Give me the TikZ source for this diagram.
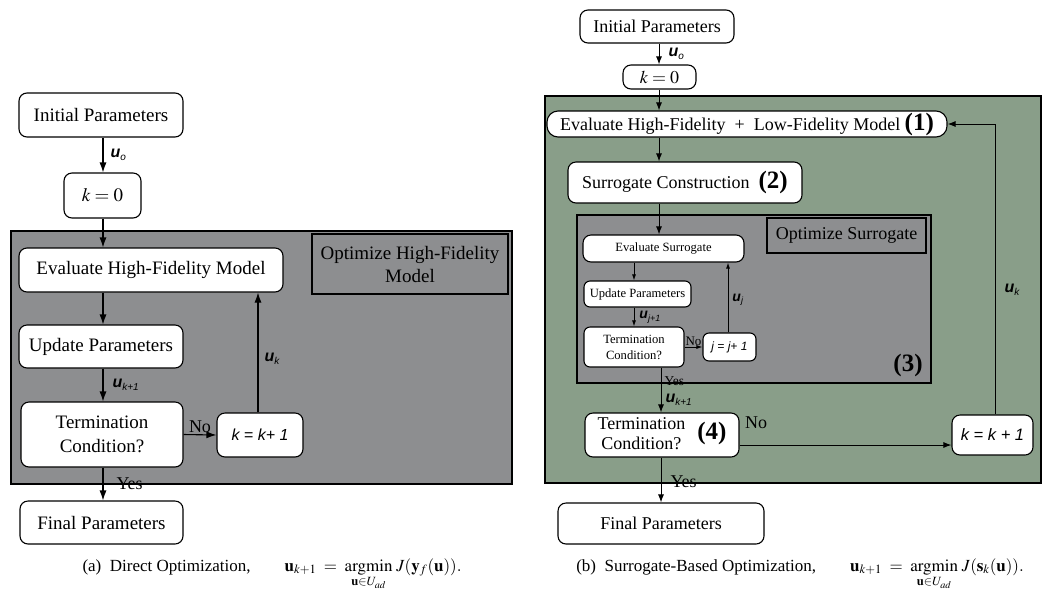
\documentclass[tikz,border=0pt]{standalone}
\usepackage{amsmath}
\usepackage{mathptmx}
\usepackage{fontspec}
\setmainfont{Liberation Serif}
\newfontfamily\sansl{Liberation Sans}
\usetikzlibrary{arrows.meta}
\definecolor{boxgray}{RGB}{141,142,144}
\definecolor{boxgreen}{RGB}{137,158,137}
\newcommand\fsz[2]{\fontsize{#1pt}{#2pt}\selectfont}
\newcommand\ulab[1]{{\sansl\bfseries\itshape\fsz{16}{16}u}\raisebox{-3pt}{\sansl\itshape\fsz{10}{10}#1}}
\newcommand\ulabs[1]{{\sansl\bfseries\itshape\fsz{14}{14}u}\raisebox{-2.5pt}{\sansl\itshape\fsz{9}{9}#1}}
\newcommand\argminop{\mathop{\mathrm{argmin}}\limits}
\begin{document}
\begin{tikzpicture}[x=1pt,y=-1pt,
  box/.style={draw, fill=white, rounded corners=8pt, line width=1.1pt, inner sep=0pt, align=center},
  optbox/.style={draw, line width=2pt, inner sep=0pt, align=center},
  region/.style={draw, line width=1.3pt},
  arrA/.style={-{Latex[length=10pt,width=7pt]}, line width=1.1pt},
  arrB/.style={-{Latex[length=8pt,width=6pt]}, line width=1pt},
  arrS/.style={-{Latex[length=6pt,width=4pt]}, line width=0.9pt},
  lbl/.style={inner sep=1pt}]
\useasboundingbox (0,0) rectangle (1043,590);

% ---------- (a) Direct Optimization ----------
\filldraw[region, fill=boxgray] (11,231) rectangle (512,484);
\node[box, minimum width=164pt, minimum height=44pt, font=\fsz{19}{23}] (iniA) at (101,115) {Initial Parameters};
\node[box, minimum width=77pt, minimum height=45pt, font=\fsz{19}{23}] (k0A) at (102.5,195.5) {$k = 0$};
\node[box, minimum width=264pt, minimum height=44pt, font=\fsz{19}{23}] (evalA) at (151,270) {Evaluate High-Fidelity Model};
\node[optbox, fill=boxgray, minimum width=196pt, minimum height=60pt, font=\fsz{19}{23}] (optA) at (410,264) {Optimize High-Fidelity\\Model};
\node[box, minimum width=164pt, minimum height=43pt, font=\fsz{19}{23}] (updA) at (101,346.5) {Update Parameters};
\node[box, minimum width=162pt, minimum height=65pt, font=\fsz{19}{24}] (termA) at (102,434.5) {Termination\\Condition?};
\node[box, minimum width=86pt, minimum height=44pt, font=\sansl\itshape\fsz{16}{16}] (kkA) at (260,435) {k = k+ 1};
\node[box, minimum width=163pt, minimum height=43pt, font=\fsz{19}{23}] (finA) at (101.5,522.5) {Final Parameters};

\coordinate (ca) at (103,0);
\coordinate (cka) at (258,0);
\draw[arrA] (iniA.south -| ca) -- (k0A.north -| ca) node[midway, right, xshift=6pt, lbl] {\ulab{o}};
\draw[arrA] (k0A.south -| ca) -- (evalA.north -| ca);
\draw[arrA] (evalA.south -| ca) -- (updA.north -| ca);
\draw[arrA] (updA.south -| ca) -- (termA.north -| ca) node[midway, right, xshift=8pt, lbl] {\ulab{k+1}};
\draw[arrA] (termA.east) -- (kkA.west) node[midway, above, yshift=1pt, lbl, font=\fsz{18}{20}] {No};
\draw[arrA] (kkA.north -| cka) -- (evalA.south -| cka) node[midway, right, xshift=5pt, yshift=-6pt, lbl] {\ulab{k}};
\draw[arrA] (termA.south -| ca) -- (finA.north -| ca) node[midway, right, xshift=12pt, yshift=0pt, lbl, font=\fsz{18}{20}] {Yes};

% ---------- (b) Surrogate-Based Optimization ----------
\filldraw[region, fill=boxgreen] (545,96) rectangle (1041,483);
\node[box, minimum width=154pt, minimum height=33pt, font=\fsz{18}{22}] (iniB) at (657,26.5) {Initial Parameters};
\node[box, minimum width=73pt, minimum height=24pt, font=\fsz{18}{22}] (k0B) at (659.5,77) {$k = 0$};
\node[box, rounded corners=11pt, minimum width=400pt, minimum height=26pt, font=\fsz{18}{22}] (evalB) at (747,124) {Evaluate High-Fidelity\ \ +\ \ Low-Fidelity Model {\bfseries\fsz{25}{25}(1)}};
\node[box, minimum width=234pt, minimum height=41pt, font=\fsz{18}{22}] (surB) at (685,182.5) {Surrogate Construction\ \ {\bfseries\fsz{25}{25}(2)}};

\filldraw[region, fill=boxgray] (577,215) rectangle (931,383);
\node[box, minimum width=161pt, minimum height=27pt, font=\fsz{12.6}{15}] (evsB) at (663.5,248.5) {Evaluate Surrogate};
\node[optbox, line width=1.8pt, fill=boxgray, minimum width=159pt, minimum height=35pt, font=\fsz{18}{22}] (optB) at (846.5,235.5) {Optimize Surrogate};
\node[box, rounded corners=6pt, minimum width=107pt, minimum height=26pt, font=\fsz{12.6}{15}] (updB) at (637.5,294) {Update Parameters};
\node[box, rounded corners=6pt, minimum width=100pt, minimum height=40pt, font=\fsz{12.6}{16}] (termB) at (634,347) {Termination\\Condition?};
\node[box, rounded corners=6pt, minimum width=53pt, minimum height=28pt, font=\sansl\itshape\fsz{12}{12}] (jjB) at (729.5,347) {j = j+ 1};
\node[font=\bfseries\fsz{25}{25}, lbl] (n3) at (908,365) {(3)};

\node[box, minimum width=154pt, minimum height=44pt, font=\fsz{18}{22}] (term4B) at (662,435) {\begin{tabular}{@{}c@{}}Termination\\[-2pt]Condition?\end{tabular}\hspace{12pt}{\bfseries\fsz{25}{25}(4)}};
\node[box, minimum width=81pt, minimum height=40pt, font=\sansl\itshape\fsz{16.5}{16.5}] (kkB) at (992.5,435) {k = k + 1};
\node[box, minimum width=206pt, minimum height=41pt, font=\fsz{18}{22}] (finB) at (661,523.5) {Final Parameters};

\coordinate (cb) at (659,0);
\coordinate (cc) at (634,0);
\coordinate (cd) at (661,0);
\coordinate (ce) at (728,0);
\coordinate (cf) at (995,0);
\draw[arrB] (iniB.south -| cb) -- (k0B.north -| cb) node[midway, right, xshift=8pt, lbl] {\ulab{o}};
\draw[arrB] (k0B.south -| cb) -- (evalB.north -| cb);
\draw[arrB] (evalB.south -| cb) -- (surB.north -| cb);
\draw[arrB] (surB.south -| cb) -- (evsB.north -| cb);
\draw[arrS] (evsB.south -| cc) -- (updB.north -| cc);
\draw[arrS] (updB.south -| cc) -- (termB.north -| cc) node[midway, right, xshift=4pt, lbl] {\ulabs{j+1}};
\draw[arrS] (termB.east) -- (jjB.west) node[midway, above, lbl, font=\fsz{13}{13}] {No};
\draw[arrS] (jjB.north -| ce) -- (evsB.south -| ce) node[midway, right, xshift=3pt, yshift=-2pt, lbl] {\ulabs{j}};
\draw[arrB] (termB.south -| cd) -- (term4B.north -| cd)
  node[pos=0.3, right, xshift=2pt, lbl, font=\fsz{13.5}{13.5}] {Yes}
  node[pos=0.72, right, xshift=3pt, lbl] {\ulab{k+1}};
\draw[arrB] ([yshift=-10pt]term4B.east) -- ([yshift=-10pt]kkB.west);
\node[font=\fsz{18}{20}, lbl] (noB) at (756,423) {No};
\draw[arrB] (kkB.north -| cf) -- (evalB.east -| cf) -- (evalB.east);
\node[lbl] (ukB) at (1012,290) {\ulab{k}};
\draw[arrB] (term4B.south -| cd) -- (finB.north -| cd) node[midway, right, xshift=8pt, yshift=-2pt, lbl, font=\fsz{18}{20}] {Yes};

% ---------- captions ----------
\node[anchor=base, font=\fsz{17}{20}, inner sep=0pt] (capA) at (272,571) {(a)\ \ Direct Optimization,\qquad $\mathbf{u}_{k+1} \;=\; \argminop_{\mathbf{u}\in U_{ad}}\, J(\mathbf{y}_f(\mathbf{u})).$};
\node[anchor=base, font=\fsz{17}{20}, inner sep=0pt] (capB) at (800,571) {(b)\ \ Surrogate-Based Optimization,\qquad $\mathbf{u}_{k+1} \;=\; \argminop_{\mathbf{u}\in U_{ad}}\, J(\mathbf{s}_k(\mathbf{u})).$};
\end{tikzpicture}
\end{document}
